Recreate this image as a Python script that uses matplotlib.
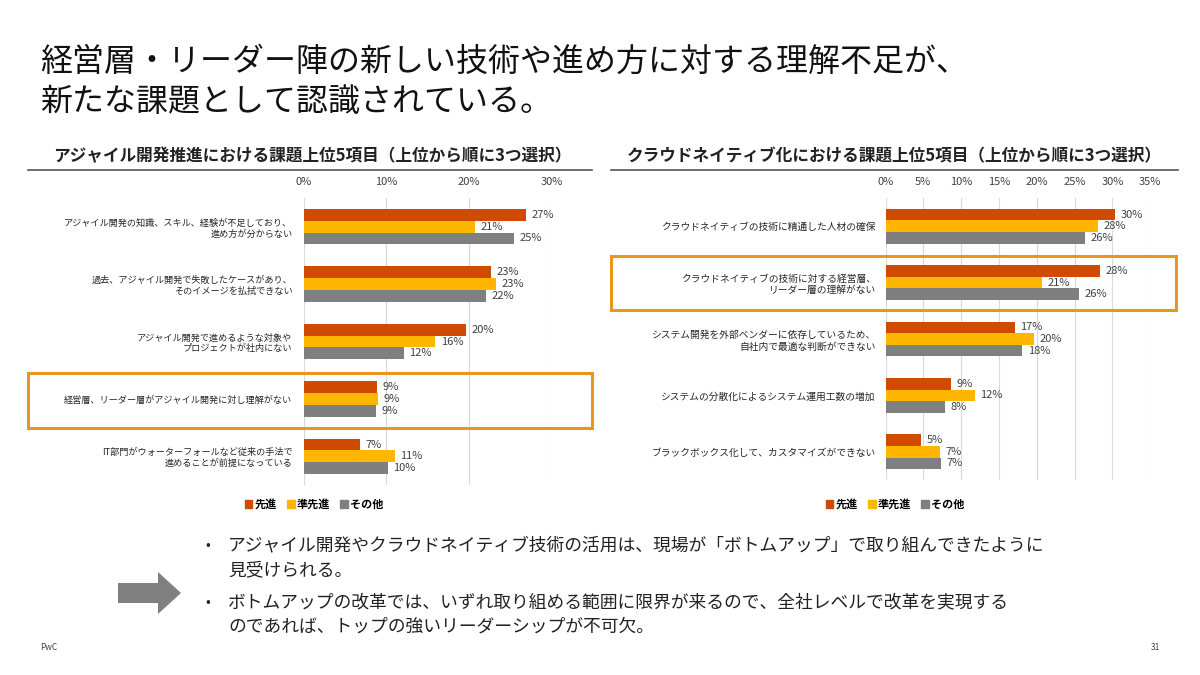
import matplotlib
matplotlib.use('Agg')
import matplotlib.pyplot as plt
from matplotlib.patches import Rectangle, Polygon
from matplotlib.lines import Line2D
import numpy as np

plt.rcParams['font.family'] = ['Noto Sans CJK JP', 'DejaVu Sans']

# データ
series = ['先進', '準先進', 'その他']
colors = ['#D04A02', '#FFB600', '#7F7F7F']

agile_title = 'アジャイル開発推進における課題上位5項目（上位から順に3つ選択）'
agile_items = [
    'アジャイル開発の知識、スキル、経験が不足しており、\n進め方が分からない',
    '過去、アジャイル開発で失敗したケースがあり、\nそのイメージを払拭できない',
    'アジャイル開発で進めるような対象や\nプロジェクトが社内にない',
    '経営層、リーダー層がアジャイル開発に対し理解がない',
    'IT部門がウォーターフォールなど従来の手法で\n進めることが前提になっている',
]
agile_senshin = [26.9, 22.6, 19.6, 8.9, 6.8]
agile_junsenshin = [20.7, 23.3, 15.9, 9.0, 11.0]
agile_sonota = [25.4, 22.1, 12.1, 8.8, 10.2]
agile_ticks = [0, 10, 20, 30]

cloud_title = 'クラウドネイティブ化における課題上位5項目（上位から順に3つ選択）'
cloud_items = [
    'クラウドネイティブの技術に精通した人材の確保',
    'クラウドネイティブの技術に対する経営層、\nリーダー層の理解がない',
    'システム開発を外部ベンダーに依存しているため、\n自社内で最適な判断ができない',
    'システムの分散化によるシステム運用工数の増加',
    'ブラックボックス化して、カスタマイズができない',
]
cloud_senshin = [30.3, 28.3, 17.1, 8.6, 4.7]
cloud_junsenshin = [28.1, 20.7, 19.6, 11.8, 7.2]
cloud_sonota = [26.4, 25.6, 18.1, 7.9, 7.3]
cloud_ticks = [0, 5, 10, 15, 20, 25, 30, 35]

title_lines = ['経営層・リーダー陣の新しい技術や進め方に対する理解不足が、',
               '新たな課題として認識されている。']
bullets = ['アジャイル開発やクラウドネイティブ技術の活用は、現場が「ボトムアップ」で取り組んできたように\n見受けられる。',
           'ボトムアップの改革では、いずれ取り組める範囲に限界が来るので、全社レベルで改革を実現する\nのであれば、トップの強いリーダーシップが不可欠。']

W, H = 1200, 675
fig = plt.figure(figsize=(12, 6.75), dpi=100)


def fx(px):
    return px / W


def fy(py):
    return 1 - py / H


def bar_panel(rect, items, vals, ticks, pad, label_size):
    ax = fig.add_axes(rect)
    y = np.arange(len(items))
    h = 0.205
    for i, (v, c) in enumerate(zip(vals, colors)):
        yy = y + (i - 1) * h
        ax.barh(yy, v, height=h, color=c, zorder=3)
        for yi, vi in zip(yy, v):
            ax.annotate(f'{int(round(vi))}%', (vi, yi), xytext=(4, 0),
                        textcoords='offset points', va='center', ha='left',
                        fontsize=8, color='#404040', annotation_clip=False)
    ax.set_xlim(ticks[0], ticks[-1])
    ax.set_ylim(len(items) - 0.5, -0.5)
    ax.set_xticks(ticks)
    ax.set_xticklabels([f'{t}%' for t in ticks], fontsize=8, color='#404040')
    ax.xaxis.tick_top()
    ax.tick_params(axis='x', length=0, pad=8)
    ax.set_yticks(y)
    ax.set_yticklabels(items, fontsize=label_size, color='#262626')
    ax.tick_params(axis='y', length=0, pad=pad)
    ax.grid(axis='x', color='#D9D9D9', linewidth=0.8, zorder=0)
    for s in ax.spines.values():
        s.set_visible(False)
    return ax


ax1 = bar_panel([fx(303.5), fy(485), fx(551.8 - 303.5), (485 - 198) / H],
                agile_items, [agile_senshin, agile_junsenshin, agile_sonota],
                agile_ticks, 8, 6.6)
ax2 = bar_panel([fx(885.5), fy(480), fx(1150.3 - 885.5), (480 - 198) / H],
                cloud_items, [cloud_senshin, cloud_junsenshin, cloud_sonota],
                cloud_ticks, 7, 7)

# 凡例
handles = [Rectangle((0, 0), 1, 1, color=c) for c in colors]
for cx in (314, 895):
    fig.legend(handles, series, loc='center', bbox_to_anchor=(fx(cx), fy(504)),
               ncol=3, frameon=False, handlelength=0.7,
               handleheight=0.7, handletextpad=0.2, columnspacing=0.9,
               prop={'weight': 'bold', 'size': 8})

# 小見出しと下線
fig.text(fx(312), fy(156), agile_title, ha='center', va='center',
         fontsize=12, fontweight='bold', color='#222222')
fig.text(fx(894), fy(156), cloud_title, ha='center', va='center',
         fontsize=12, fontweight='bold', color='#222222')
fig.add_artist(Line2D([fx(28), fx(592)], [fy(170), fy(170)], color='#555555', lw=1.2))
fig.add_artist(Line2D([fx(611), fx(1178)], [fy(170), fy(170)], color='#555555', lw=1.2))

# 強調枠
fig.add_artist(Rectangle((fx(28), fy(428)), fx(592 - 28), (428 - 373) / H,
                         fill=False, edgecolor='#E8961E', lw=2.2))
fig.add_artist(Rectangle((fx(611), fy(310)), fx(1176 - 611), (310 - 256) / H,
                         fill=False, edgecolor='#E8961E', lw=2.2))

# タイトル
fig.text(fx(40), fy(62), title_lines[0], ha='left', va='center',
         fontsize=23, color='#111111')
fig.text(fx(40), fy(102), title_lines[1], ha='left', va='center',
         fontsize=23, color='#111111')

# 矢印
arrow = [(118, 583), (158, 583), (158, 572), (181, 593), (158, 614),
         (158, 603), (118, 603)]
fig.add_artist(Polygon([(fx(a), fy(b)) for a, b in arrow], closed=True,
                       facecolor='#808080', edgecolor='none'))

# 箇条書き
for by, text in zip((545, 602), bullets):
    fig.text(fx(205), fy(by), '•', ha='left', va='center', fontsize=10, color='#222222')
    l1, l2 = text.split('\n')
    fig.text(fx(228), fy(by), l1, ha='left', va='center', fontsize=12.8, color='#222222')
    fig.text(fx(228), fy(by + 25), l2, ha='left', va='center', fontsize=12.8, color='#222222')

# フッター
fig.text(fx(40), fy(648), 'PwC', ha='left', va='center', fontsize=6, color='#404040')
fig.text(fx(1160), fy(648), '31', ha='right', va='center', fontsize=6, color='#404040')

fig.savefig('out.png', dpi=100)
